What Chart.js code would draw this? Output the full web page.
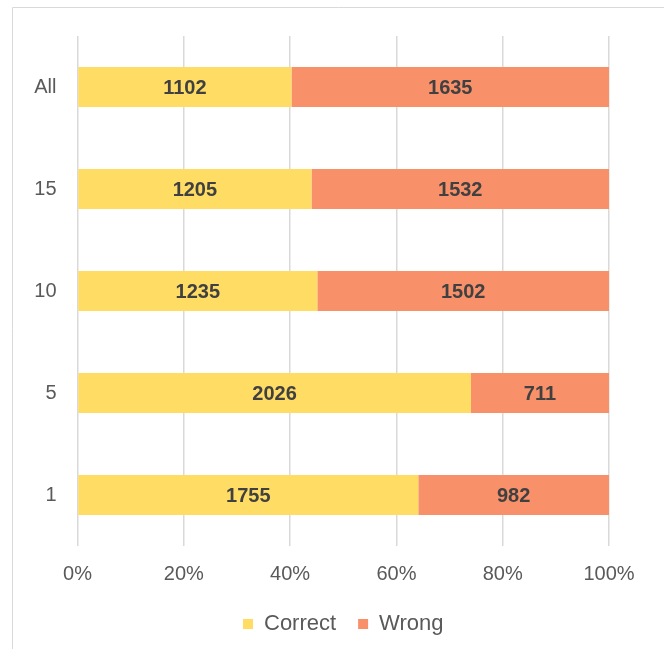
<!DOCTYPE html>
<html>
<head>
<meta charset="utf-8">
<script src="https://cdn.jsdelivr.net/npm/chart.js@4"></script>
<style>
  html, body { margin: 0; padding: 0; background: #fff; }
  #wrap { width: 664px; height: 649px; position: relative; }
</style>
</head>
<body>
<div id="wrap"><canvas id="answerChart"></canvas></div>
<script>
const categories = ['All', '15', '10', '5', '1'];
const correct = [1102, 1205, 1235, 2026, 1755];
const wrong = [1635, 1532, 1502, 711, 982];

const FONT = "'Liberation Sans', Arial, sans-serif";

function share(arr, other) {
    return arr.map((v, i) => v / (v + other[i]) * 100);
}

// writes the raw count in the middle of each bar segment
const countLabels = {
    id: 'countLabels',
    afterDatasetsDraw(chart) {
        const ctx = chart.ctx;
        ctx.save();
        ctx.font = 'bold 20px ' + FONT;
        ctx.fillStyle = '#404040';
        ctx.textAlign = 'center';
        ctx.textBaseline = 'middle';
        chart.data.datasets.forEach((ds, d) => {
            chart.getDatasetMeta(d).data.forEach((bar, i) => {
                ctx.fillText(String(ds.counts[i]), (bar.x + bar.base) / 2, bar.y + 1);
            });
        });
        ctx.restore();
    }
};

// thin frame along the top and left edge
const frame = {
    id: 'frame',
    beforeDraw(chart) {
        const ctx = chart.ctx;
        ctx.save();
        ctx.strokeStyle = '#d9d9d9';
        ctx.lineWidth = 1;
        ctx.beginPath();
        ctx.moveTo(12.5, chart.height);
        ctx.lineTo(12.5, 7.5);
        ctx.lineTo(chart.width, 7.5);
        ctx.stroke();
        ctx.restore();
    }
};

// center the legend under the plot area instead of the whole canvas
const legendUnderPlot = {
    id: 'legendUnderPlot',
    afterLayout(chart) {
        const lg = chart.legend;
        if (!lg) return;
        lg.left = chart.chartArea.left;
        lg.right = chart.chartArea.right;
    }
};

new Chart(document.getElementById('answerChart'), {
    type: 'bar',
    data: {
        labels: categories,
        datasets: [{
            label: 'Correct',
            data: share(correct, wrong),
            counts: correct,
            backgroundColor: '#FFDC64'
        }, {
            label: 'Wrong',
            data: share(wrong, correct),
            counts: wrong,
            backgroundColor: '#F8906A'
        }]
    },
    options: {
        indexAxis: 'y',
        responsive: true,
        maintainAspectRatio: false,
        animation: false,
        categoryPercentage: 0.8,
        barPercentage: 0.49,
        layout: { padding: { left: 0, right: 55, top: 36, bottom: 4 } },
        plugins: {
            tooltip: { enabled: false },
            legend: {
                position: 'bottom',
                labels: {
                    boxWidth: 10,
                    boxHeight: 10,
                    padding: 22,
                    color: '#595959',
                    font: { family: FONT, size: 22 }
                }
            }
        },
        scales: {
            x: {
                stacked: true,
                min: 0,
                max: 100,
                ticks: {
                    stepSize: 20,
                    padding: 16,
                    color: '#595959',
                    font: { family: FONT, size: 20 },
                    callback: v => v + '%'
                },
                grid: { color: '#d9d9d9', lineWidth: 1.5, drawTicks: false },
                border: { display: false },
                afterFit: s => { s.height = 45; }
            },
            y: {
                stacked: true,
                ticks: {
                    padding: 21,
                    color: '#595959',
                    font: { family: FONT, size: 20 }
                },
                grid: { display: false, drawTicks: false },
                border: { display: false },
                afterFit: s => { s.width = 77.5; }
            }
        }
    },
    plugins: [frame, legendUnderPlot, countLabels]
});
</script>
</body>
</html>
